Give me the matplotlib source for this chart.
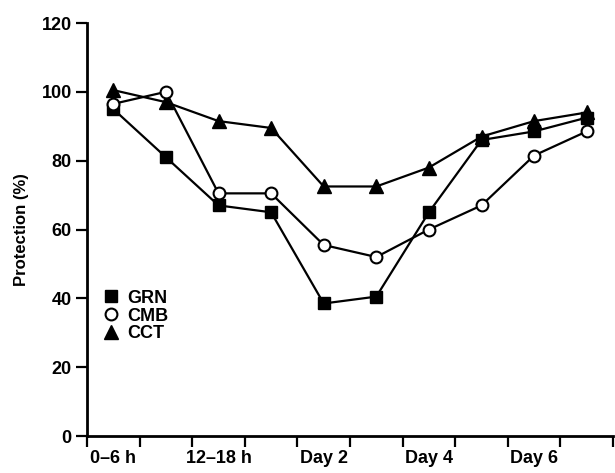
import matplotlib
matplotlib.use("Agg")
import matplotlib.pyplot as plt
from matplotlib.lines import Line2D
import numpy as np

plt.rcParams['font.family'] = ['Liberation Sans', 'DejaVu Sans']
plt.rcParams['font.weight'] = 'bold'
plt.rcParams['axes.labelweight'] = 'bold'

x_labels = ["0\u20136 h", "12\u201318 h", "Day 2", "Day 4", "Day 6"]
n_points = 10
grn = [95, 81, 67, 65, 38.5, 40.5, 65, 86, 88.5, 92.5]
cmb = [96.5, 100, 70.5, 70.5, 55.5, 52, 60, 67, 81.5, 88.5]
cct = [100.5, 97, 91.5, 89.5, 72.5, 72.5, 78, 87, 91.5, 94]
y_ticks = [0, 20, 40, 60, 80, 100, 120]

fig = plt.figure(figsize=(6.15, 4.73), dpi=100)
ax = fig.add_axes([87/615, 37/473, 526/615, 413/473])

xs = np.arange(n_points) + 0.5
lw = 1.6
ax.plot(xs, grn, color='black', lw=lw, marker='s', ms=8.5, mfc='black', mec='black', zorder=3)
ax.plot(xs, cmb, color='black', lw=lw, marker='o', ms=8.5, mfc='white', mec='black', mew=1.5, zorder=4)
ax.plot(xs, cct, color='black', lw=lw, marker='^', ms=9.5, mfc='black', mec='black', zorder=3)

ax.set_xlim(0, n_points)
ax.set_ylim(0, 120)
ax.set_xticks(np.arange(0, n_points + 1))
ax.set_xticklabels([])
ax.set_xticks(np.arange(len(x_labels)) * 2 + 0.5, minor=True)
ax.set_xticklabels(x_labels, minor=True)
ax.tick_params(axis='x', which='minor', length=0, pad=10, labelsize=13)
ax.tick_params(axis='x', which='major', length=8, width=1.6, direction='out')
ax.set_yticks(y_ticks)
ax.tick_params(axis='y', length=8, width=1.6, direction='out', labelsize=13, pad=3)

for s in ['top', 'right']:
    ax.spines[s].set_visible(False)
for s in ['left', 'bottom']:
    ax.spines[s].set_linewidth(2)

ax.set_ylabel("Protection (%)", fontsize=12, labelpad=9)

handles = [
    Line2D([], [], ls='none', marker='s', ms=8.5, mfc='black', mec='black', color='black'),
    Line2D([], [], ls='none', marker='o', ms=8.5, mfc='white', mec='black', mew=1.5, color='black'),
    Line2D([], [], ls='none', marker='^', ms=9.5, mfc='black', mec='black', color='black'),
]
ax.legend(handles, ["GRN", "CMB", "CCT"], loc='upper left', bbox_to_anchor=(0.005, 0.385),
          frameon=False, fontsize=13, handlelength=1.0, handletextpad=0.4,
          labelspacing=0.05, borderpad=0.2)

fig.savefig("out.png", dpi=100)
